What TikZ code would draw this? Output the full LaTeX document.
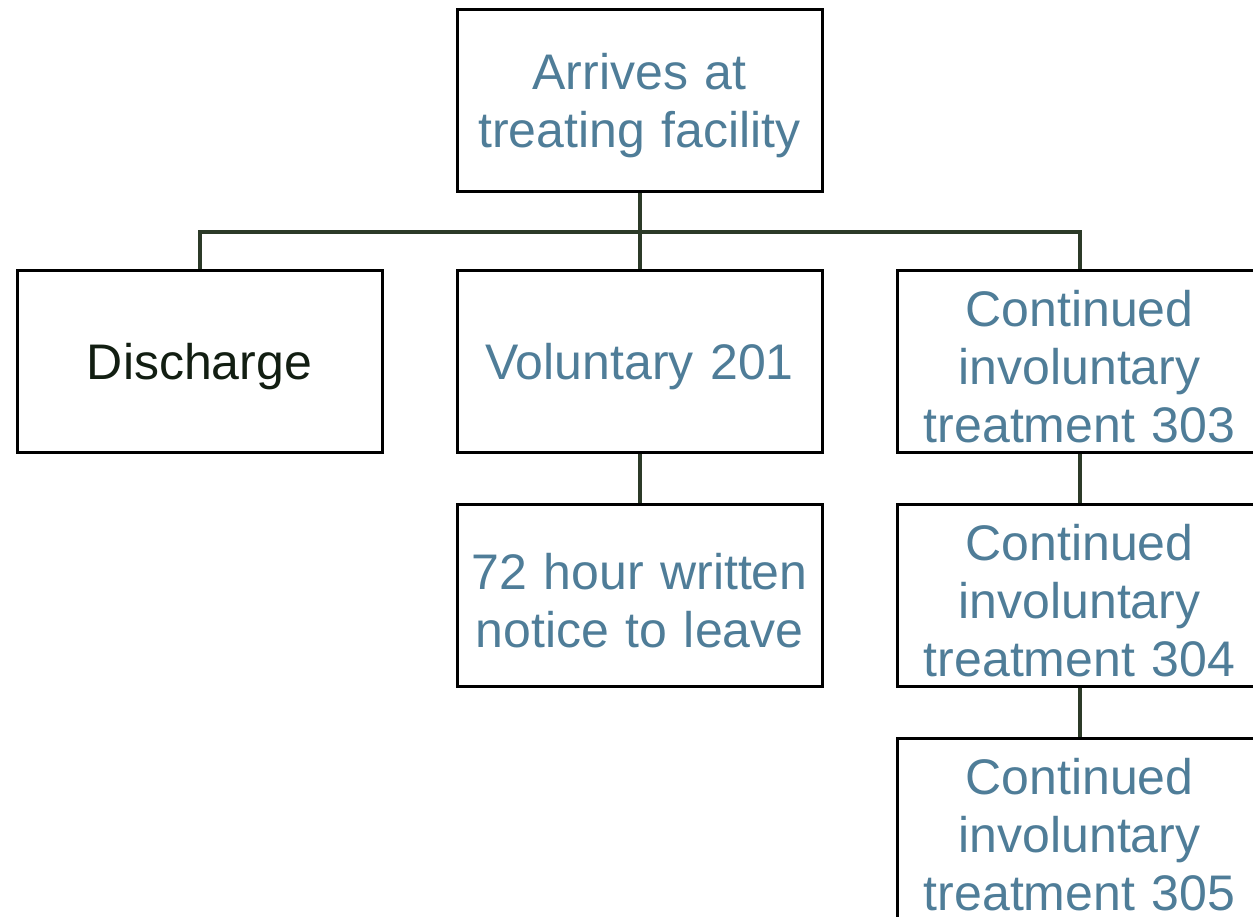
\documentclass[tikz,border=0pt]{standalone}
\usepackage{fontspec}
\setmainfont{Liberation Sans}
\usetikzlibrary{positioning}

\definecolor{boxtext}{RGB}{79,125,152}
\definecolor{linkcol}{RGB}{44,58,40}
\definecolor{darktext}{RGB}{18,30,18}

\begin{document}
\begin{tikzpicture}[
    x=1pt, y=-1pt,
    box/.style={draw=black, line width=3pt, minimum width=365pt, minimum height=182pt, text width=360pt, text height=47pt, align=center, inner sep=0pt, text=boxtext, font=\fontsize{50}{58}\selectfont},
    link/.style={draw=linkcol, line width=4pt}
]
\useasboundingbox (0,0) rectangle (1253,916);
\clip (0,0) rectangle (1253,916);

% top of the tree
\node[box] (arrive) at (639.5,100) {Arrives at\\treating facility};

% second row
\node[box] (discharge) at (199.5,361.5) {\color{darktext}Discharge};
\node[box] (voluntary) at (639.5,361.5) {Voluntary 201};
\node[box] (cit303) at (1079.5,361.5) {Continued\\involuntary\\treatment 303};

% lower rows
\node[box] (notice) at (639.5,595.5) {72 hour written\\notice to leave};
\node[box] (cit304) at (1079.5,595.5) {Continued\\involuntary\\treatment 304};
\node[box] (cit305) at (1079.5,829.5) {Continued\\involuntary\\treatment 305};

% links
\coordinate (split) at (639.5,232);
\draw[link] (arrive.south) -- (split);
\draw[link] (split) -| (discharge.north);
\draw[link] (split) -| (cit303.north);
\draw[link] (split) -- (voluntary.north);
\draw[link] (voluntary.south) -- (notice.north);
\draw[link] (cit303.south) -- (cit304.north);
\draw[link] (cit304.south) -- (cit305.north);

\end{tikzpicture}
\end{document}
